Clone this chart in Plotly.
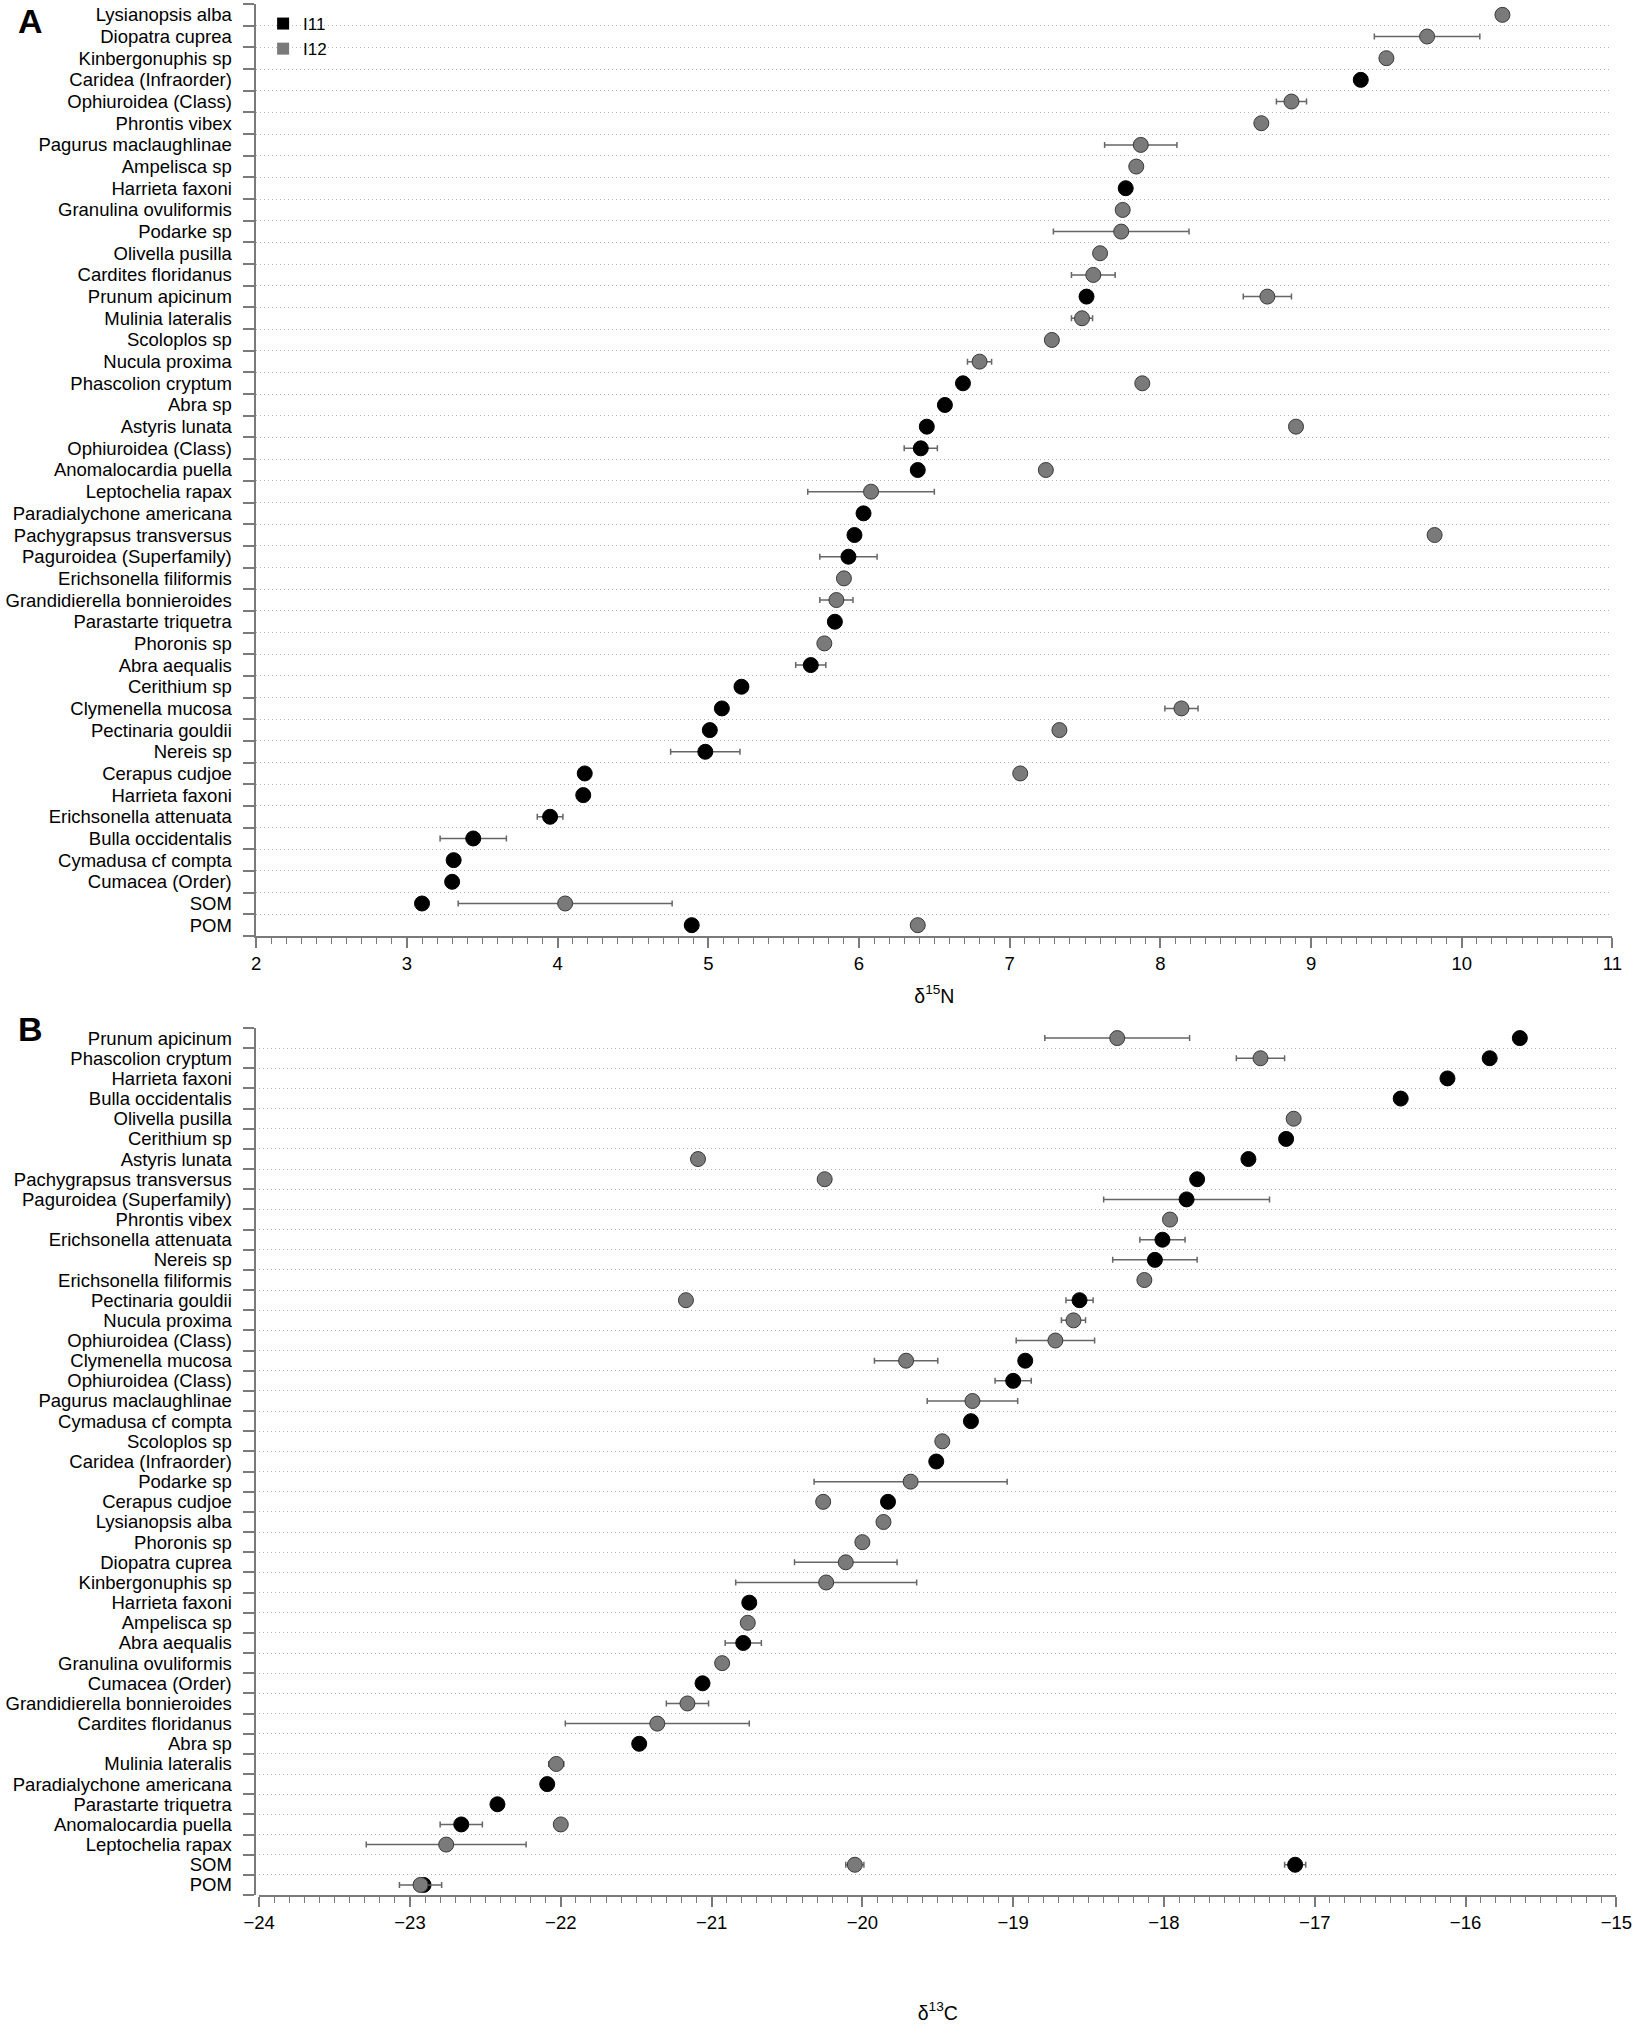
import plotly.graph_objects as go

# ---- Panel A: delta15N (rows listed top to bottom) ----
labels_n = [
    "Lysianopsis alba", "Diopatra cuprea", "Kinbergonuphis sp", "Caridea (Infraorder)",
    "Ophiuroidea (Class)", "Phrontis vibex", "Pagurus maclaughlinae", "Ampelisca sp",
    "Harrieta faxoni", "Granulina ovuliformis", "Podarke sp", "Olivella pusilla",
    "Cardites floridanus", "Prunum apicinum", "Mulinia lateralis", "Scoloplos sp",
    "Nucula proxima", "Phascolion cryptum", "Abra sp", "Astyris lunata",
    "Ophiuroidea (Class)", "Anomalocardia puella", "Leptochelia rapax",
    "Paradialychone americana", "Pachygrapsus transversus", "Paguroidea (Superfamily)",
    "Erichsonella filiformis", "Grandidierella bonnieroides", "Parastarte triquetra",
    "Phoronis sp", "Abra aequalis", "Cerithium sp", "Clymenella mucosa",
    "Pectinaria gouldii", "Nereis sp", "Cerapus cudjoe", "Harrieta faxoni",
    "Erichsonella attenuata", "Bulla occidentalis", "Cymadusa cf compta",
    "Cumacea (Order)", "SOM", "POM",
]
n_i11 = [None, None, None, 9.33, None, None, None, None, 7.77, None, None, None,
         None, 7.51, None, None, None, 6.69, 6.57, 6.45, 6.41, 6.39, None, 6.03,
         5.97, 5.93, None, None, 5.84, None, 5.68, 5.22, 5.09, 5.01, 4.98, 4.18,
         4.17, 3.95, 3.44, 3.31, 3.30, 3.10, 4.89]
n_i11_err = [None, None, None, None, None, None, None, None, None, None, None, None,
             None, None, None, None, None, None, None, None, 0.11, None, None, None,
             None, 0.19, None, None, None, None, 0.10, None, None, None, 0.23, None,
             None, 0.085, 0.22, None, None, None, None]
n_i12 = [10.27, 9.77, 9.50, None, 8.87, 8.67, 7.87, 7.84, None, 7.75, 7.74, 7.60,
         7.555, 8.71, 7.48, 7.28, 6.80, 7.88, None, 8.90, None, 7.24, 6.08, None,
         9.82, None, 5.90, 5.85, None, 5.77, None, None, 8.14, 7.33, None, 7.07,
         None, None, None, None, None, 4.05, 6.39]
n_i12_err = [None, 0.35, None, None, 0.10, None, 0.24, None, None, None, 0.45, None,
             0.145, 0.16, 0.07, None, 0.08, None, None, None, None, None, 0.42, None,
             None, None, None, 0.11, None, None, None, None, 0.11, None, None, None,
             None, None, None, None, None, 0.71, None]

# ---- Panel B: delta13C (rows listed top to bottom) ----
labels_c = [
    "Prunum apicinum", "Phascolion cryptum", "Harrieta faxoni", "Bulla occidentalis",
    "Olivella pusilla", "Cerithium sp", "Astyris lunata", "Pachygrapsus transversus",
    "Paguroidea (Superfamily)", "Phrontis vibex", "Erichsonella attenuata", "Nereis sp",
    "Erichsonella filiformis", "Pectinaria gouldii", "Nucula proxima",
    "Ophiuroidea (Class)", "Clymenella mucosa", "Ophiuroidea (Class)",
    "Pagurus maclaughlinae", "Cymadusa cf compta", "Scoloplos sp", "Caridea (Infraorder)",
    "Podarke sp", "Cerapus cudjoe", "Lysianopsis alba", "Phoronis sp", "Diopatra cuprea",
    "Kinbergonuphis sp", "Harrieta faxoni", "Ampelisca sp", "Abra aequalis",
    "Granulina ovuliformis", "Cumacea (Order)", "Grandidierella bonnieroides",
    "Cardites floridanus", "Abra sp", "Mulinia lateralis", "Paradialychone americana",
    "Parastarte triquetra", "Anomalocardia puella", "Leptochelia rapax", "SOM", "POM",
]
c_i11 = [-15.64, -15.84, -16.12, -16.43, None, -17.19, -17.44, -17.78, -17.85, None,
         -18.01, -18.06, None, -18.56, None, None, -18.92, -19.00, None, -19.28, None,
         -19.51, None, -19.83, None, None, None, None, -20.75, None, -20.79, None,
         -21.06, None, None, -21.48, None, -22.09, -22.42, -22.66, None, -17.13, -22.91]
c_i11_err = [None, None, None, None, None, None, None, None, 0.55, None, 0.15, 0.28,
             None, 0.09, None, None, None, 0.12, None, None, None, None, None, None,
             None, None, None, None, None, None, 0.12, None, None, None, None, None,
             None, None, None, 0.14, None, 0.07, None]
c_i12 = [-18.31, -17.36, None, None, -17.14, None, -21.09, -20.25, None, -17.96, None,
         None, -18.13, -21.17, -18.60, -18.72, -19.71, None, -19.27, None, -19.47, None,
         -19.68, -20.26, -19.86, -20.00, -20.11, -20.24, None, -20.76, None, -20.93,
         None, -21.16, -21.36, None, -22.03, None, None, -22.00, -22.76, -20.05, -22.93]
c_i12_err = [0.48, 0.16, None, None, None, None, None, None, None, None, None, None,
             None, None, 0.08, 0.26, 0.21, None, 0.30, None, None, None, 0.64, None,
             None, None, 0.34, 0.60, None, None, None, None, None, 0.14, 0.61, None,
             0.05, None, None, None, 0.53, 0.06, 0.14]

FONT = "Liberation Sans, Arial, Helvetica, sans-serif"
AXIS_GRAY = "#7a7a7a"
W, H = 1650, 2030

fig = go.Figure()


def add_panel(labels, v11, e11, v12, e12, xa, ya):
    n = len(labels)
    ypos = list(range(n - 1, -1, -1))
    for vals, errs, fill, edge in [(v11, e11, "black", "black"),
                                   (v12, e12, "#7a7a7a", "#3a3a3a")]:
        fig.add_trace(go.Scatter(
            x=vals, y=ypos, mode="markers", showlegend=False,
            xaxis=xa, yaxis=ya,
            marker=dict(size=15, color=fill, line=dict(color=edge, width=1)),
            error_x=dict(type="data", array=errs, visible=True,
                         color="#666666", thickness=1.5, width=3),
        ))


add_panel(labels_n, n_i11, n_i11_err, n_i12, n_i12_err, "x", "y")
add_panel(labels_c, c_i11, c_i11_err, c_i12, c_i12_err, "x2", "y2")

# legend entries (square swatches)
for name, col in [("I11", "black"), ("I12", "#7a7a7a")]:
    fig.add_trace(go.Scatter(x=[None], y=[None], mode="markers", name=name,
                             marker=dict(symbol="square", size=13, color=col,
                                         line=dict(width=0))))


def y_axis(labels, domain):
    n = len(labels)
    return dict(
        domain=domain, range=[-0.5, n - 0.5], tickmode="array",
        tickvals=list(range(n - 1, -1, -1)), ticktext=labels,
        ticks="outside", ticklen=19, tickcolor="rgba(0,0,0,0)",
        showgrid=False, zeroline=False, showline=True,
        linecolor=AXIS_GRAY, linewidth=1.5,
        tickfont=dict(size=18.5, color="black", family=FONT),
        minor=dict(tickmode="array", tickvals=[k + 0.5 for k in range(-1, n)],
                   ticks="outside", ticklen=11, tickwidth=1.5, tickcolor=AXIS_GRAY,
                   showgrid=True, gridcolor="#b5b5b5", griddash="1px,3px", gridwidth=1),
    )


def x_axis(rng, domain, anchor, title, standoff):
    return dict(
        domain=domain, range=rng, anchor=anchor, dtick=1, tick0=rng[0],
        ticks="outside", ticklen=10, tickwidth=1.5, tickcolor=AXIS_GRAY,
        showgrid=False, zeroline=False, showline=True,
        linecolor=AXIS_GRAY, linewidth=1.5,
        tickfont=dict(size=18.5, color="black", family=FONT),
        minor=dict(dtick=0.1, ticks="outside", ticklen=6, tickwidth=1,
                   tickcolor=AXIS_GRAY, showgrid=False),
        title=dict(text=title, font=dict(size=19.5, color="black", family=FONT),
                   standoff=standoff),
    )


fig.update_layout(
    width=W, height=H,
    margin=dict(l=0, r=0, t=0, b=0),
    plot_bgcolor="white", paper_bgcolor="white",
    font=dict(family=FONT, color="black"),
    xaxis=x_axis([2, 11], [245 / W, 1628 / W], "y", "δ<sup>15</sup>N", 16),
    yaxis=y_axis(labels_n, [1 - 936 / H, 1 - 4 / H]),
    xaxis2=x_axis([-24, -15], [248 / W, 1632 / W], "y2", "δ<sup>13</sup>C", 74),
    yaxis2=y_axis(labels_c, [1 - 1895 / H, 1 - 1028 / H]),
    legend=dict(x=252 / W, y=1 - 6 / H, xanchor="left", yanchor="top",
                bgcolor="rgba(0,0,0,0)", font=dict(size=17, family=FONT),
                itemsizing="constant", tracegroupgap=0, itemwidth=30),
    annotations=[
        dict(text="<b>A</b>", x=0, y=1 - 0 / H, xref="paper", yref="paper",
             xanchor="left", yanchor="top", showarrow=False,
             font=dict(size=34, family=FONT, color="black")),
        dict(text="<b>B</b>", x=0, y=1 - 1008 / H, xref="paper", yref="paper",
             xanchor="left", yanchor="top", showarrow=False,
             font=dict(size=34, family=FONT, color="black")),
    ],
)

fig.write_html("out.html", config={"displayModeBar": False},
               post_script="document.body.style.margin='0';")
